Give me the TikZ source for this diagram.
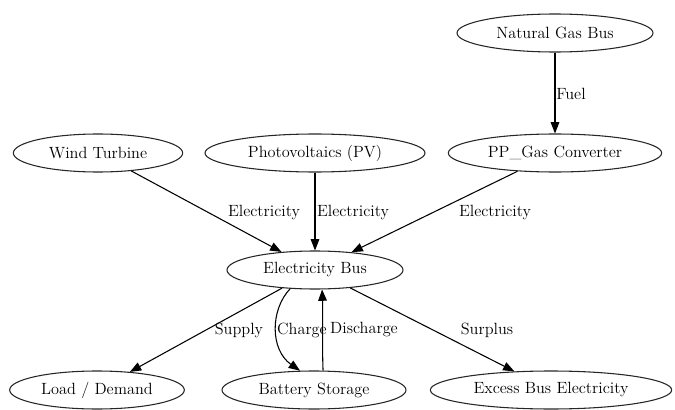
\documentclass[tikz,border=0pt]{standalone}
\usetikzlibrary{arrows.meta,shapes.geometric}
\begin{document}
\begin{tikzpicture}[x=0.75pt,y=-0.75pt,
  nd/.style={draw=black!85,line width=0.8pt,ellipse,inner sep=0pt,minimum height=28.5pt,font=\fontsize{12.2}{14}\selectfont},
  lab/.style={font=\fontsize{12.2}{14}\selectfont,inner sep=0pt},
  edge/.style={draw=black,line width=0.8pt,-{Triangle[length=8.5pt,width=6.5pt]}}]
\useasboundingbox (0,0) rectangle (675,410);
\node[nd,minimum width=147pt] (ng) at (555,33) {Natural Gas Bus};
\node[nd,minimum width=127pt] (wt) at (98,153) {Wind Turbine};
\node[nd,minimum width=165pt] (pv) at (315,153) {Photovoltaics (PV)};
\node[nd,minimum width=160pt] (pp) at (555,153) {PP\_Gas Converter};
\node[nd,minimum width=132pt] (eb) at (315,270) {Electricity Bus};
\node[nd,minimum width=131pt] (ld) at (97,390) {Load / Demand};
\node[nd,minimum width=138pt] (bs) at (314,390) {Battery Storage};
\node[nd,minimum width=181pt] (ex) at (551,390) {Excess Bus Electricity};
\draw[edge] (ng) -- (pp);
\draw[edge] (wt) -- (eb);
\draw[edge] (pv) -- (eb);
\draw[edge] (pp) -- (eb);
\draw[edge] (eb) -- (ld);
\draw[edge] (eb.217) .. controls +(-20,21) and +(-30,-21) .. (bs.126);
\draw[edge] (bs.65) .. controls +(-1,-25) and +(1,25) .. (eb.290);
\draw[edge] (eb) -- (ex);
\node[lab] (lf) at (571,94) {Fuel};
\node[lab] (l1) at (264,213) {Electricity};
\node[lab] (l2) at (353,213) {Electricity};
\node[lab] (l3) at (495,213) {Electricity};
\node[lab] (l4) at (239,330) {Supply};
\node[lab] (l5) at (302,330) {Charge};
\node[lab] (l6) at (364,330) {Discharge};
\node[lab] (l7) at (487,330) {Surplus};
\end{tikzpicture}
\end{document}
